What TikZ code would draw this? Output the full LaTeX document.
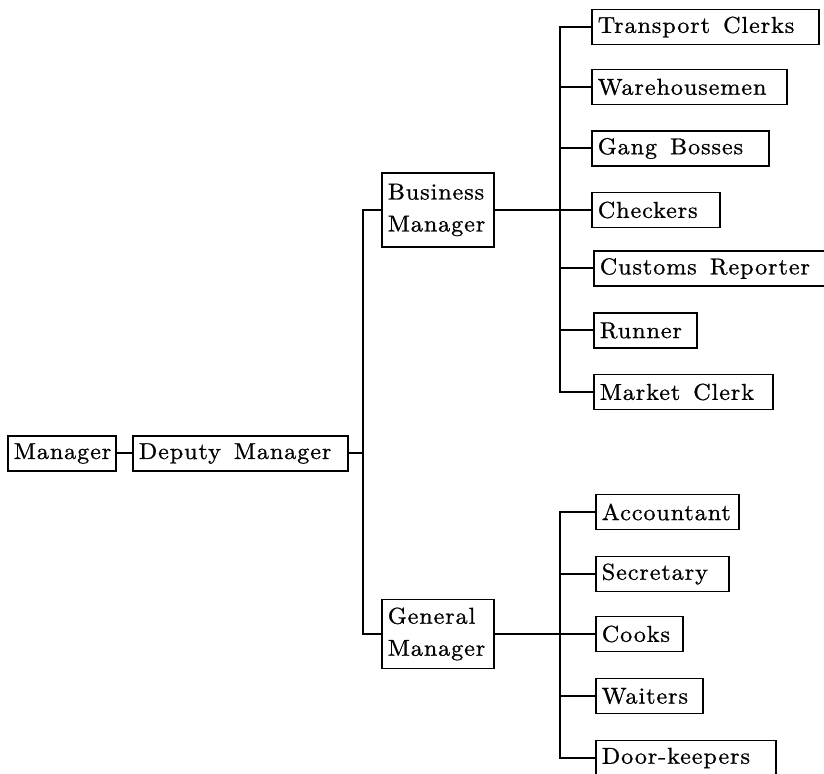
\documentclass[tikz,border=0pt]{standalone}
\usepackage{fontspec}
\setmainfont{lmroman10-regular.otf}[FakeStretch=1.05, LetterSpace=4, FakeBold=0.9]
\tikzset{
	post/.style={draw, line width=0.8pt, anchor=west, align=left, inner xsep=3pt, inner ysep=0pt, minimum height=17.5pt, text width=#1, font=\fontsize{11.5}{16}\selectfont, execute at begin node={\spaceskip=6.5pt\relax}},
	link/.style={line width=1pt},
}
\begin{document}
\begin{tikzpicture}[x=0.5pt, y=-0.5pt]
	\useasboundingbox (0,0) rectangle (824,774);
\node[post=48pt] (Mgr) at (7, 453.5) {Manager}; % Post.0
\node[post=101.5pt] (DM) at (132, 453.5) {Deputy Manager}; % Post.1
\node[post=50pt, minimum height=37pt] (BM) at (381, 210) {Business\\Manager}; % Post.2
\node[post=50pt, minimum height=34.5pt] (GM) at (381, 634) {General\\Manager}; % Post.3

\node[post=107.5pt] (B1) at (591, 27) {Transport Clerks}; % Business.1
\node[post=91.5pt] (B2) at (591, 87) {Warehousemen}; % Business.2
\node[post=82.5pt] (B3) at (591, 148.5) {Gang Bosses}; % Business.3
\node[post=58pt] (B4) at (591, 210) {Checkers}; % Business.4
\node[post=112pt] (B5) at (593, 268.5) {Customs Reporter}; % Business.5
\node[post=45.5pt] (B6) at (593, 330.5) {Runner}; % Business.6
\node[post=83.5pt] (B7) at (593, 392) {Market Clerk}; % Business.7

\node[post=65.5pt] (G1) at (595, 512) {Accountant}; % General.1
\node[post=60.5pt] (G2) at (595, 574) {Secretary}; % General.2
\node[post=37.5pt] (G3) at (595, 634) {Cooks}; % General.3
\node[post=47.5pt] (G4) at (595, 696) {Waiters}; % General.4
\node[post=84pt] (G5) at (595, 758) {Door-keepers}; % General.5

\coordinate (spine) at (363, 453.5);
\coordinate (bbus) at (560, 210);
\coordinate (gbus) at (560, 634);

\draw[link] (Mgr) -- (DM); % Mgr.DM
\draw[link] (DM) -- (spine); % DM.spine
\draw[link] (BM.west) -- (BM.west -| spine) -- (GM.west -| spine) -- (GM.west); % spine

\draw[link] (BM) -- (bbus); % BM.bus
\draw[link] (B1.west) -- (B1.west -| bbus) -- (B7.west -| bbus) -- (B7.west); % bus
\draw[link] (B2.west) -- (B2.west -| bbus);
\draw[link] (B3.west) -- (B3.west -| bbus);
\draw[link] (B4.west) -- (B4.west -| bbus);
\draw[link] (B5.west) -- (B5.west -| bbus);
\draw[link] (B6.west) -- (B6.west -| bbus);

\draw[link] (GM) -- (gbus); % GM.bus
\draw[link] (G1.west) -- (G1.west -| gbus) -- (G5.west -| gbus) -- (G5.west); % bus
\draw[link] (G2.west) -- (G2.west -| gbus);
\draw[link] (G3.west) -- (G3.west -| gbus);
\draw[link] (G4.west) -- (G4.west -| gbus);

	\end{tikzpicture}
\end{document}
